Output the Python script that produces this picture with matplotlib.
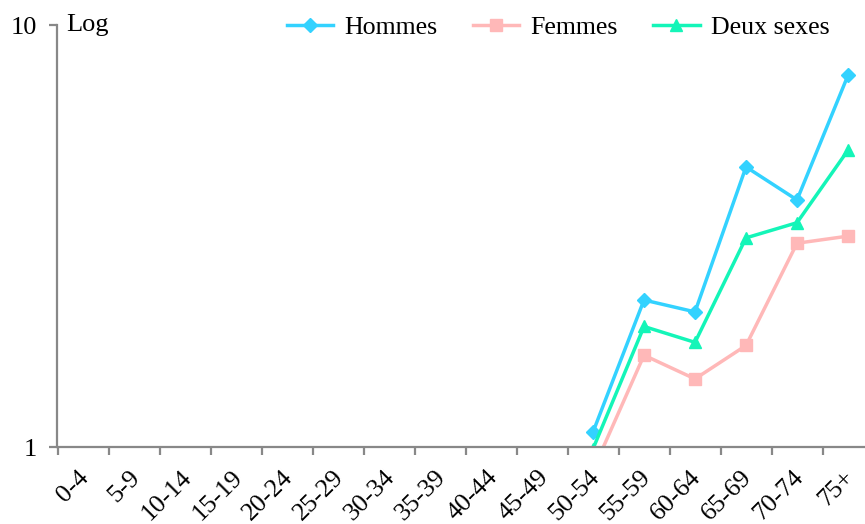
import numpy as np
import matplotlib
matplotlib.use("Agg")
import matplotlib.pyplot as plt
from matplotlib.ticker import FixedLocator, NullFormatter, FixedFormatter
from matplotlib.transforms import ScaledTranslation

categories = ["0-4", "5-9", "10-14", "15-19", "20-24", "25-29", "30-34", "35-39",
              "40-44", "45-49", "50-54", "55-59", "60-64", "65-69", "70-74", "75+"]
nan = np.nan
hommes = [nan] * 10 + [1.085, 2.23, 2.09, 4.61, 3.85, 7.6]
femmes = [nan] * 10 + [0.88, 1.65, 1.45, 1.74, 3.04, 3.16]
deux_sexes = [nan] * 10 + [0.99, 1.93, 1.77, 3.13, 3.40, 5.05]

plt.rcParams['font.family'] = ['Liberation Serif', 'DejaVu Serif']
fs = 19

fig = plt.figure(figsize=(8.65, 5.24), dpi=100)
ax = fig.add_axes([57.5 / 865, 77 / 524, 816 / 865, 422 / 524])

x = np.arange(len(categories))
ax.plot(x, hommes, color='#33D2FF', lw=2.5, marker='D', ms=7.5, label='Hommes')
ax.plot(x, femmes, color='#FFB8B8', lw=2.5, marker='s', ms=8, label='Femmes')
ax.plot(x, deux_sexes, color='#14F5B8', lw=2.5, marker='^', ms=8.5, label='Deux sexes')

ax.set_yscale('log')
ax.set_ylim(1, 10)
ax.set_xlim(-0.5, len(categories) - 0.5)

ax.yaxis.set_major_locator(FixedLocator([1, 10]))
ax.yaxis.set_major_formatter(FixedFormatter(['1', '10']))
ax.yaxis.set_minor_locator(FixedLocator([]))
ax.yaxis.set_minor_formatter(NullFormatter())

ax.set_xticks(np.arange(-0.5, len(categories) + 0.5, 1.0))
ax.set_xticklabels([])
ax.set_xticks(x, minor=True)
ax.set_xticklabels(categories, minor=True, rotation=45, ha='right', rotation_mode='anchor')
ax.tick_params(axis='x', which='minor', length=0, labelsize=fs - 0.3, pad=14)
ax.tick_params(axis='x', which='major', length=6, width=1.6, color='#888888', direction='out')
ax.tick_params(axis='y', which='major', length=6, width=1.6, color='#888888', direction='out',
               labelsize=fs, pad=8.5)
shift = ScaledTranslation(-0.05, 0, fig.dpi_scale_trans)
for lbl in ax.get_xticklabels(minor=True):
    lbl.set_transform(lbl.get_transform() + shift)

for s in ['top', 'right']:
    ax.spines[s].set_visible(False)
for s in ['left', 'bottom']:
    ax.spines[s].set_color('#888888')
    ax.spines[s].set_linewidth(1.6)

ax.text(9 / 816, 1.0, 'Log', transform=ax.transAxes, fontsize=fs, va='center', ha='left')

leg = ax.legend(loc='upper left', bbox_to_anchor=(0.268, 1.047), ncol=3, frameon=False,
                fontsize=18.6, handlelength=1.8, handletextpad=0.45, columnspacing=1.35,
                borderaxespad=0)

fig.savefig('out.png', dpi=100)
